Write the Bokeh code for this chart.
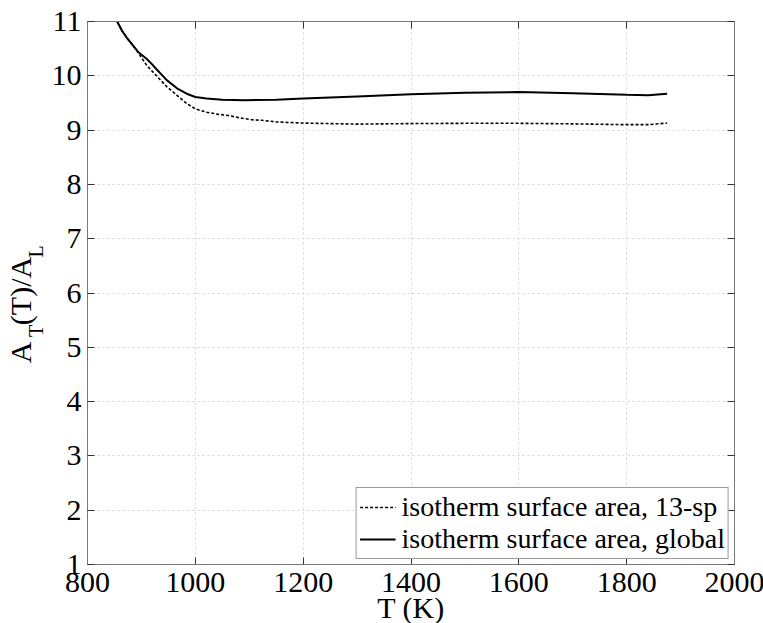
from bokeh.plotting import figure
from bokeh.models import (FixedTicker, LinearAxis, Legend, LegendItem,
                          CustomJSTickFormatter, Range1d, ColumnDataSource)
from bokeh.embed import file_html
from bokeh.resources import INLINE

# ---- data ----
T_13sp = [855, 864, 873, 891, 910, 928, 947, 966, 984, 1000, 1021, 1043, 1061,
          1080, 1105, 1123, 1150, 1200, 1250, 1300, 1400, 1500, 1600, 1700,
          1800, 1840, 1875]
A_13sp = [11.0, 10.83, 10.70, 10.47, 10.19, 10.00, 9.80, 9.64, 9.49, 9.39,
          9.33, 9.29, 9.27, 9.23, 9.19, 9.18, 9.15, 9.13, 9.12, 9.11, 9.12,
          9.125, 9.125, 9.115, 9.10, 9.10, 9.13]

T_global = [855, 864, 873, 894, 910, 919, 928, 947, 966, 984, 1000, 1021,
            1050, 1092, 1150, 1200, 1300, 1400, 1500, 1600, 1700, 1800, 1840,
            1875]
A_global = [11.0, 10.83, 10.70, 10.44, 10.31, 10.22, 10.12, 9.92, 9.77, 9.67,
            9.61, 9.58, 9.56, 9.55, 9.56, 9.58, 9.62, 9.66, 9.69, 9.70, 9.68,
            9.65, 9.64, 9.67]

x_ticks = [800, 1000, 1200, 1400, 1600, 1800, 2000]
y_ticks = [1, 2, 3, 4, 5, 6, 7, 8, 9, 10, 11]
legend_labels = ["isotherm surface area, 13-sp", "isotherm surface area, global"]
x_label = "T (K)"
# y label  A_T(T)/A_L : main-size pieces and subscript pieces
y_label_main = ["A", "(T)/A"]
y_label_subs = ["T", "L"]

FONT = "Liberation Serif"
AXIS_COLOR = "#7a7a7a"
X0, X1, Y0, Y1 = 800, 2000, 1, 11
LEFT, TOP, FW, FH = 86, 21, 647, 543

p = figure(frame_width=FW, frame_height=FH, output_backend="svg",
           toolbar_location=None,
           x_range=Range1d(X0, X1), y_range=Range1d(Y0, Y1),
           min_border_left=LEFT, min_border_right=30, min_border_top=TOP,
           min_border_bottom=0)
p.outline_line_color = None
p.background_fill_color = "white"
p.border_fill_color = "white"

src1 = ColumnDataSource(dict(x=T_13sp, y=A_13sp))
src2 = ColumnDataSource(dict(x=T_global, y=A_global))
r1 = p.line("x", "y", source=src1, line_color="black", line_width=1.6,
            line_dash="3 2")
r2 = p.line("x", "y", source=src2, line_color="black", line_width=2)

def style_axis(ax, ticks, show_labels=True):
    ax.ticker = FixedTicker(ticks=ticks)
    ax.axis_line_color = AXIS_COLOR
    ax.major_tick_line_color = "#333333"
    ax.major_tick_in = 7
    ax.major_tick_out = 0
    ax.minor_tick_line_color = None
    ax.major_label_text_font = FONT
    ax.major_label_text_font_size = "30px"
    ax.major_label_text_color = "black"
    if not show_labels:
        ax.formatter = CustomJSTickFormatter(code="return ''")

style_axis(p.xaxis[0], x_ticks)
style_axis(p.yaxis[0], y_ticks)
p.xaxis[0].major_label_standoff = 8
p.yaxis[0].major_label_standoff = 6
p.xaxis[0].axis_label = x_label
p.xaxis[0].axis_label_text_font = FONT
p.xaxis[0].axis_label_text_font_size = "30px"
p.xaxis[0].axis_label_text_font_style = "normal"
p.xaxis[0].axis_label_text_color = "black"
p.xaxis[0].axis_label_standoff = -4

top_ax = LinearAxis()
style_axis(top_ax, x_ticks, show_labels=False)
p.add_layout(top_ax, "above")
right_ax = LinearAxis()
style_axis(right_ax, y_ticks, show_labels=False)
p.add_layout(right_ax, "right")

# y-axis title built from two label-only axes (subscripts nearer the frame)
def py_to_y(py):
    return Y0 + (TOP + FH - py) * (Y1 - Y0) / FH

def label_axis(texts, centers_py, size, standoff):
    ax = LinearAxis()
    ticks = [py_to_y(c) for c in centers_py]
    ax.ticker = FixedTicker(ticks=ticks)
    ax.formatter = CustomJSTickFormatter(args=dict(labels=texts),
                                         code="return labels[index]")
    ax.axis_line_color = None
    ax.major_tick_line_color = None
    ax.minor_tick_line_color = None
    ax.major_tick_in = 0
    ax.major_tick_out = 0
    ax.major_label_orientation = "vertical"
    ax.major_label_text_font = FONT
    ax.major_label_text_font_size = size
    ax.major_label_text_color = "black"
    ax.major_label_standoff = standoff
    p.add_layout(ax, "left")

label_axis(y_label_subs, [330.5, 251], "20px", 2)
label_axis(y_label_main, [352, 290.5], "30px", -15)

p.xgrid.ticker = FixedTicker(ticks=x_ticks)
p.ygrid.ticker = FixedTicker(ticks=y_ticks)
for g in (p.xgrid[0], p.ygrid[0]):
    g.grid_line_color = "#d4d4d4"
    g.grid_line_dash = "2 3"
    g.grid_line_width = 1

legend = Legend(items=[LegendItem(label=legend_labels[0], renderers=[r1]),
                       LegendItem(label=legend_labels[1], renderers=[r2])],
                location="bottom_right")
legend.label_text_font = FONT
legend.label_text_font_size = "28px"
legend.label_text_color = "black"
legend.glyph_width = 36
legend.glyph_height = 26
legend.label_height = 26
legend.label_standoff = 6
legend.padding = 3
legend.spacing = -3
legend.margin = 5
legend.border_line_color = "#333333"
legend.border_line_width = 1
legend.background_fill_alpha = 1
p.add_layout(legend)

open("out.html", "w").write(file_html(p, INLINE))
